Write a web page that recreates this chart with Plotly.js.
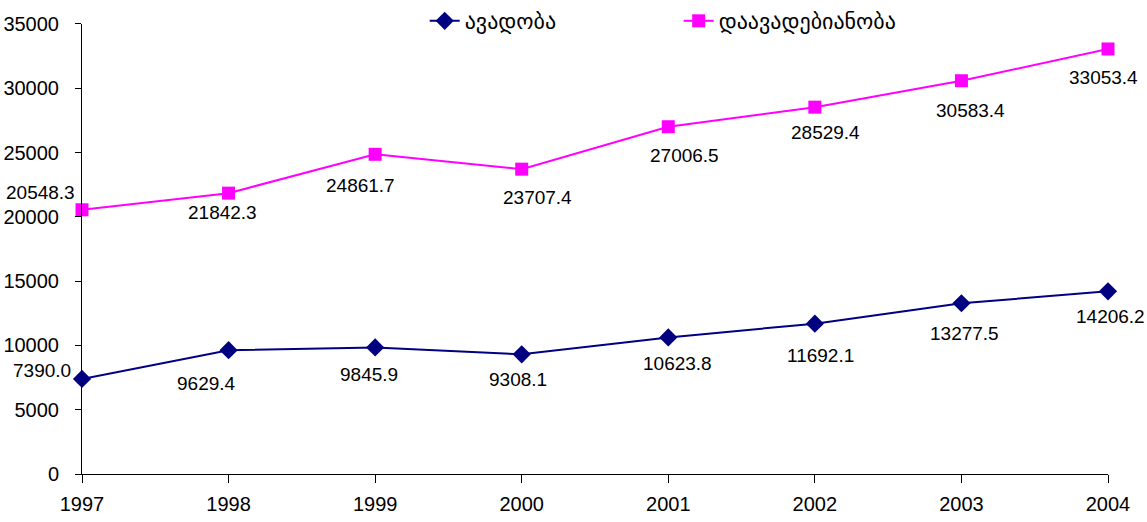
<!DOCTYPE html>
<html>
<head>
<meta charset="utf-8">
<script src="https://cdn.plot.ly/plotly-3.0.1.min.js"></script>
<style>html,body{margin:0;padding:0;background:#fff;}#chart{width:1147px;height:522px;}</style>
</head>
<body>
<div id="chart"></div>
<script>
const years = [1997, 1998, 1999, 2000, 2001, 2002, 2003, 2004];
const morbidity = [7390.0, 9629.4, 9845.9, 9308.1, 10623.8, 11692.1, 13277.5, 14206.2];
const incidence = [20548.3, 21842.3, 24861.7, 23707.4, 27006.5, 28529.4, 30583.4, 33053.4];
const seriesNames = ['ავადობა', 'დაავადებიანობა'];
const yTicks = [0, 5000, 10000, 15000, 20000, 25000, 30000, 35000];

// label offsets in pixels (style only): [dx, dy], dy positive = downward
const morbidityLabelOffsets = [[-40, -8], [-22, 33], [-6, 27], [-4, 25], [9, 26], [6, 32], [3, 30], [2, 25]];
const incidenceLabelOffsets = [[-42, -17], [-6, 19], [-15, 31], [16, 28], [16, 29], [11, 25], [9, 30], [-5, 29]];

const fmt = v => v.toFixed(1);
const tickFont = {family: 'Liberation Sans, Arial, sans-serif', size: 20, color: '#000'};
const labelFont = {family: 'Liberation Sans, Arial, sans-serif', size: 19, color: '#000'};

const traces = [
  {
    x: years, y: morbidity, name: seriesNames[0], type: 'scatter', mode: 'lines+markers',
    line: {color: '#000080', width: 2},
    marker: {symbol: 'diamond', size: 14, color: '#000080'},
    cliponaxis: false
  },
  {
    x: years, y: incidence, name: seriesNames[1], type: 'scatter', mode: 'lines+markers',
    line: {color: '#FF00FF', width: 2},
    marker: {symbol: 'square', size: 13, color: '#FF00FF'},
    cliponaxis: false
  }
];

function labels(vals, offs) {
  return vals.map((v, i) => ({
    x: years[i], y: v, xref: 'x', yref: 'y', text: fmt(v), showarrow: false,
    xanchor: 'center', yanchor: 'middle', xshift: offs[i][0], yshift: -offs[i][1],
    font: labelFont
  }));
}

const paperH = 522 - 48;
const layout = {
  width: 1147, height: 522,
  margin: {l: 82, r: 39, t: 0, b: 48},
  paper_bgcolor: '#fff', plot_bgcolor: '#fff',
  font: tickFont,
  showlegend: true,
  legend: {
    orientation: 'h', x: 0.334, xanchor: 'left', y: (paperH - 20) / paperH, yanchor: 'middle',
    font: {family: 'DejaVu Sans, sans-serif', size: 22, color: '#000'},
    entrywidth: 209, entrywidthmode: 'pixels', bgcolor: 'rgba(0,0,0,0)'
  },
  annotations: labels(morbidity, morbidityLabelOffsets).concat(labels(incidence, incidenceLabelOffsets)),
  xaxis: {
    range: [1997, 2004], tickvals: years, ticktext: years.map(String),
    showgrid: false, zeroline: false, showline: true, linecolor: '#000', linewidth: 1,
    ticks: 'outside', ticklen: 8, tickcolor: '#000', tickwidth: 1,
    ticklabelstandoff: 4, tickfont: tickFont, automargin: false
  },
  yaxis: {
    domain: [0, 451 / paperH],
    range: [0, 35000], tickvals: yTicks, ticktext: yTicks.map(String),
    showgrid: false, zeroline: false, showline: true, linecolor: '#000', linewidth: 1,
    ticks: 'outside', ticklen: 6, tickcolor: '#000', tickwidth: 1,
    ticklabelstandoff: 12, tickfont: tickFont, automargin: false
  }
};

Plotly.newPlot('chart', traces, layout, {displayModeBar: false, staticPlot: true});
</script>
</body>
</html>
